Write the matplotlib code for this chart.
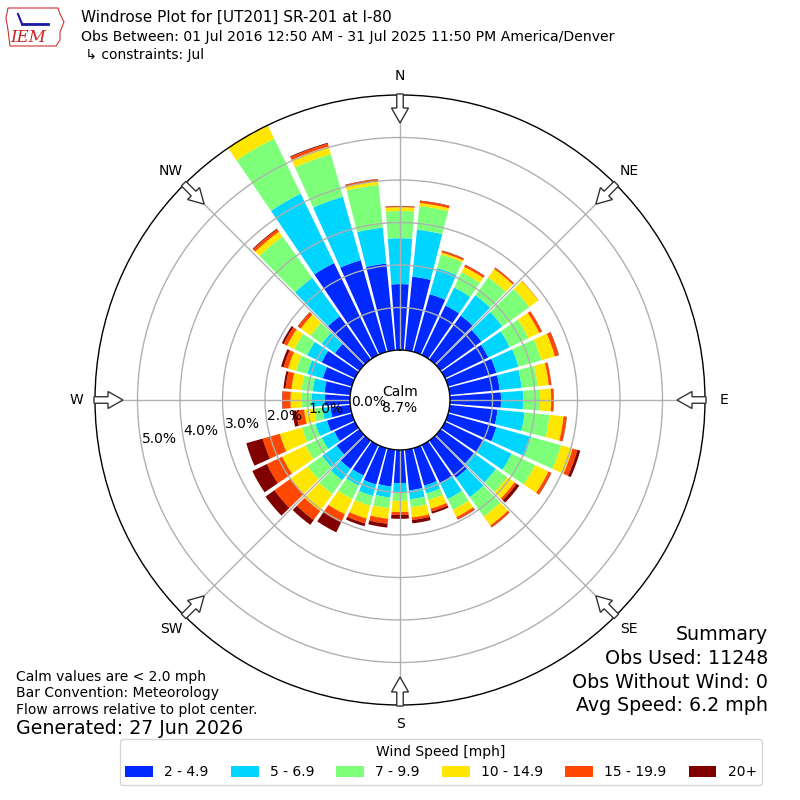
import numpy as np
import matplotlib
matplotlib.use("Agg")
import matplotlib.pyplot as plt
from matplotlib.patches import FancyArrow, Patch, Polygon

# wind direction bins (deg, meteorological) and frequency [%] per speed class
directions = np.arange(0, 360, 10)
speed_labels = ["2 - 4.9", "5 - 6.9", "7 - 9.9", "10 - 14.9", "15 - 19.9", "20+"]
pct_2_5 = [1.55, 1.74, 1.41, 1.29, 1.27, 1.18, 1.13, 1.18, 1.18, 1.20, 1.13, 1.18,
           1.01, 0.96, 1.08, 0.99, 0.92, 0.96, 0.78, 0.87, 0.89, 0.80, 0.82, 0.66,
           0.54, 0.61, 0.47, 0.59, 0.61, 0.71, 0.87, 0.71, 1.25, 2.40, 2.24, 2.05]
pct_5_7 = [1.08, 1.11, 0.64, 0.47, 0.59, 0.61, 0.56, 0.54, 0.52, 0.52, 0.64, 0.85,
           0.73, 0.64, 0.56, 0.42, 0.19, 0.21, 0.21, 0.26, 0.28, 0.26, 0.33, 0.42,
           0.33, 0.28, 0.19, 0.31, 0.28, 0.38, 0.38, 0.38, 1.11, 1.81, 1.55, 0.85]
pct_7_10 = [0.64, 0.56, 0.33, 0.40, 0.52, 0.78, 0.49, 0.56, 0.38, 0.40, 0.59, 0.73,
            0.61, 0.33, 0.56, 0.28, 0.16, 0.19, 0.21, 0.25, 0.24, 0.35, 0.40, 0.42,
            0.42, 0.33, 0.19, 0.24, 0.26, 0.28, 0.33, 0.33, 1.20, 1.44, 1.04, 1.01]
pct_10_15 = [0.09, 0.07, 0.05, 0.14, 0.24, 0.26, 0.28, 0.33, 0.26, 0.26, 0.33, 0.28,
             0.35, 0.21, 0.26, 0.19, 0.21, 0.24, 0.26, 0.25, 0.31, 0.40, 0.49, 0.49,
             0.61, 0.54, 0.24, 0.26, 0.24, 0.19, 0.19, 0.28, 0.14, 0.38, 0.19, 0.09]
pct_15_20 = [0.02, 0.05, 0.04, 0.05, 0.04, 0.01, 0.07, 0.09, 0.06, 0.06, 0.07, 0.12,
             0.07, 0.06, 0.05, 0.06, 0.07, 0.06, 0.07, 0.12, 0.12, 0.21, 0.26, 0.47,
             0.40, 0.42, 0.19, 0.19, 0.14, 0.11, 0.09, 0.08, 0.07, 0.05, 0.07, 0.04]
pct_20p = [0.01, 0.01, 0.01, 0.01, 0.005, 0.0, 0.005, 0.01, 0.005, 0.005, 0.01, 0.07,
           0.01, 0.08, 0.01, 0.01, 0.05, 0.08, 0.09, 0.09, 0.07, 0.26, 0.14, 0.26,
           0.38, 0.40, 0.09, 0.01, 0.05, 0.06, 0.05, 0.01, 0.02, 0.02, 0.02, 0.01]
calm_pct = 8.7
rings = [0, 1, 2, 3, 4, 5]

speed_bins = [pct_2_5, pct_5_7, pct_7_10, pct_10_15, pct_15_20, pct_20p]
colors = plt.cm.jet(np.linspace(0, 1, 7)[1:])

fig = plt.figure(figsize=(8, 8), dpi=100)
ax = fig.add_axes([95 / 800, 95 / 800, 610 / 800, 610 / 800], projection="polar")
ax.set_theta_zero_location("N")
ax.set_theta_direction(-1)

theta = np.deg2rad(directions)
bottom = np.zeros(len(directions))
for vals, col in zip(speed_bins, colors):
    vals = np.array(vals)
    ax.bar(theta, vals, width=np.deg2rad(8.6), bottom=bottom, color=col,
           linewidth=0, align="center")
    bottom += vals

ax.set_ylim(0, 6)
ax.set_rorigin(-1.176)
ax.set_rgrids([1, 2, 3, 4, 5], labels=[])
ax.set_thetagrids(range(0, 360, 45), labels=[])
ax.grid(True, color="#b0b0b0", linewidth=1)
for sp in ax.spines.values():
    sp.set_color("black")
    sp.set_linewidth(1)

for r in rings:
    ax.text(np.deg2rad(260), r, f"{r:.1f}%", ha="left", va="bottom", fontsize=10)

ax.text(0.5, 0.5, f"Calm\n{calm_pct:.1f}%", ha="center", va="center",
        transform=ax.transAxes, fontsize=10)

# compass labels and flow arrows
cx, cy = 400, 400
compass = ["N", "NE", "E", "SE", "S", "SW", "W", "NW"]
for i, lab in enumerate(compass):
    a = np.deg2rad(i * 45)
    sx, sy = np.sin(a), np.cos(a)
    lx, ly = cx + 324 * sx, cy + 324 * sy
    fig.text(lx / 800, ly / 800, lab, ha="center", va="center", fontsize=10)
    tx, ty = cx + 306 * sx, cy + 306 * sy
    arr = FancyArrow(tx / 800, ty / 800, -29 * sx / 800, -29 * sy / 800,
                     width=6.5 / 800, head_width=17 / 800, head_length=15 / 800,
                     length_includes_head=True, transform=fig.transFigure,
                     facecolor="white", edgecolor="#333333", linewidth=1, zorder=10)
    fig.patches.append(arr)

# header
fig.text(81 / 800, 1 - 17 / 800, "Windrose Plot for [UT201] SR-201 at I-80",
         fontsize=11, va="center")
fig.text(81 / 800, 1 - 37 / 800,
         "Obs Between: 01 Jul 2016 12:50 AM - 31 Jul 2025 11:50 PM America/Denver",
         fontsize=10.1, va="center")
fig.text(81 / 800, 1 - 55 / 800, " \u21b3 constraints: Jul", fontsize=10, va="center")

# simple IEM logo
iowa = [(8, 8), (58, 8), (60, 14), (64, 22), (60, 32), (60, 40), (56, 46), (10, 46), (8, 30), (6, 18)]
fig.patches.append(Polygon([(x / 800, 1 - y / 800) for x, y in iowa], closed=True,
                           transform=fig.transFigure, facecolor="white",
                           edgecolor="#cc3333", linewidth=0.8))
fig.lines.append(plt.Line2D([22 / 800, 48 / 800], [1 - 24 / 800, 1 - 24 / 800],
                            transform=fig.transFigure, color="#1a1aa0", linewidth=2))
fig.lines.append(plt.Line2D([18 / 800, 22 / 800], [1 - 14 / 800, 1 - 24 / 800],
                            transform=fig.transFigure, color="#1a1aa0", linewidth=1.5))
fig.text(28 / 800, 1 - 38 / 800, "IEM", fontsize=12, color="#cc2222",
         family="DejaVu Serif", style="italic", ha="center", va="center")

# notes
fig.text(16 / 800, 1 - 677 / 800, "Calm values are < 2.0 mph", fontsize=10, va="center")
fig.text(16 / 800, 1 - 693 / 800, "Bar Convention: Meteorology", fontsize=10, va="center")
fig.text(16 / 800, 1 - 710 / 800, "Flow arrows relative to plot center.", fontsize=10,
         va="center")
fig.text(16 / 800, 1 - 729 / 800, "Generated: 27 Jun 2026", fontsize=13.7, va="center")

summary = ["Summary", "Obs Used: 11248", "Obs Without Wind: 0", "Avg Speed: 6.2 mph"]
for i, s in enumerate(summary):
    fig.text(768 / 800, 1 - (635 + i * 23.5) / 800, s, fontsize=13.7, ha="right",
             va="center")

handles = [Patch(facecolor=c) for c in colors]
fig.legend(handles, speed_labels, loc="lower center", ncol=6,
           bbox_to_anchor=(441 / 800, 0.01), title="Wind Speed [mph]", fontsize=10,
           title_fontsize=10, handlelength=2.0, handleheight=0.8, columnspacing=1.6,
           borderpad=0.4)

fig.savefig("out.png", dpi=100)
